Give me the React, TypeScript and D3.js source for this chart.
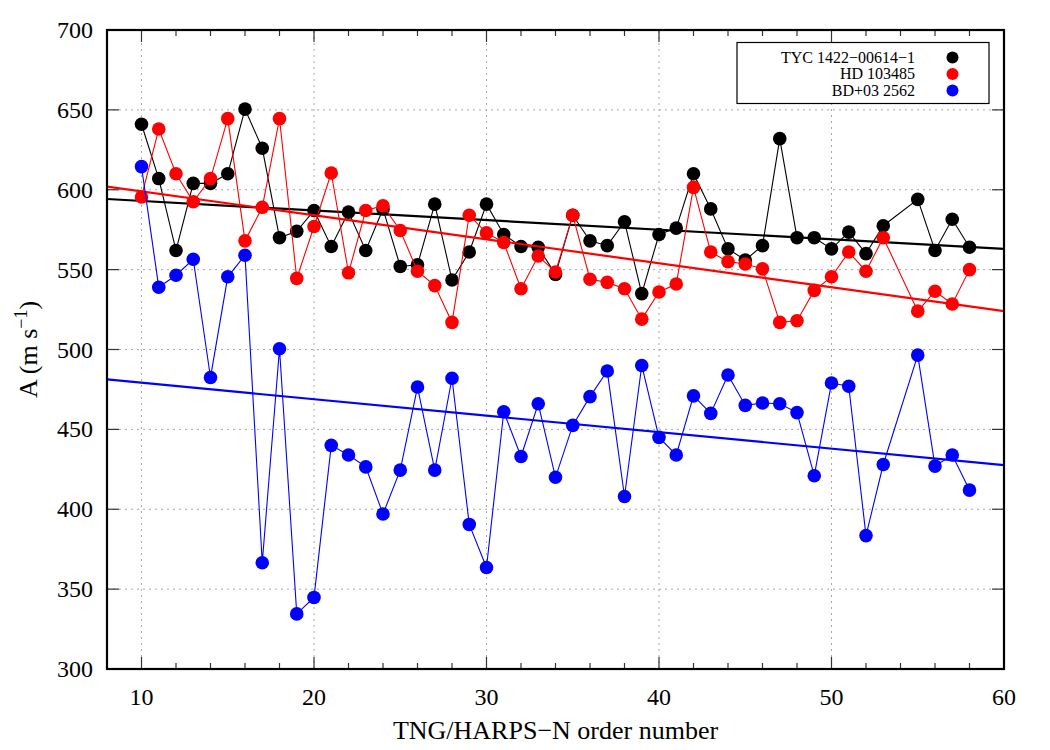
import React, { useEffect } from 'react';
import * as d3 from 'd3';

// order numbers (no 54 in the data)
const orders = [
  10, 11, 12, 13, 14, 15, 16, 17, 18, 19, 20, 21, 22, 23, 24, 25, 26, 27, 28, 29,
  30, 31, 32, 33, 34, 35, 36, 37, 38, 39, 40, 41, 42, 43, 44, 45, 46, 47, 48, 49,
  50, 51, 52, 53, 55, 56, 57, 58,
];

const tycValues = [
  641, 607, 562, 604, 604, 610, 650.5, 626, 570, 574, 587, 564.5, 586, 562, 588, 552, 553, 591, 543.5, 561,
  591, 572, 564.5, 564, 547, 584, 568, 565, 580, 535, 572, 576, 610, 588, 563, 556, 565, 632, 570, 570,
  563, 573.5, 560, 577.5, 594, 562, 581.5, 564,
];

const hdValues = [
  595.5, 638, 610, 592.5, 607, 644.5, 568, 589, 644.5, 544.5, 577, 610.5, 548, 587, 590, 574.5, 549, 540, 517, 584,
  573, 567, 538, 558.5, 548.5, 584, 544, 542, 538, 519, 536, 541, 601.5, 561, 555, 553.5, 550.5, 517, 518, 537,
  545.5, 561, 549, 570, 524, 536.5, 528.5, 550,
];

const bdValues = [
  614.5, 539, 546.5, 556.5, 482.5, 545.5, 559, 366.5, 500.5, 334.5, 344.8, 440, 434, 426.5, 397, 424.5, 476.5, 424.5, 482, 390.5,
  363.5, 461, 433, 466, 420, 452.5, 470.5, 486.5, 408, 490, 445, 434, 471, 460, 484, 465, 466.5, 466, 460.5, 421,
  479, 477, 383.5, 428, 496.5, 427, 434, 412,
];

const seriesNames = ['TYC 1422\u221200614\u22121', 'HD 103485', 'BD+03 2562'];
const seriesColors = ['#000000', '#ff0000', '#0000ff'];
// linear fits: A = intercept + slope * order
const fitIntercepts = [599, 614, 489.5];
const fitSlopes = [-0.6, -1.5, -1.031];

const xTicks = [10, 20, 30, 40, 50, 60];
const yTicks = [300, 350, 400, 450, 500, 550, 600, 650, 700];

const width = 1050;
const height = 750;
const margin = { left: 107, right: 46, top: 30, bottom: 81 };
const font = '"Liberation Serif", "Times New Roman", Times, serif';

export default function App() {
  useEffect(() => {
    document.body.style.margin = '0';
  }, []);

  const x = d3.scaleLinear().domain([8, 60]).range([margin.left, width - margin.right]);
  const y = d3.scaleLinear().domain([300, 700]).range([height - margin.bottom, margin.top]);
  const [x0, x1] = x.range();
  const [y0, y1] = y.range();

  const allValues = [tycValues, hdValues, bdValues];
  const line = d3.line<[number, number]>()
    .x(d => x(d[0]))
    .y(d => y(d[1]));

  const minorX = d3.range(8, 61, 2).filter(v => v % 10 !== 0);

  return (
    <svg width={width} height={height} style={{ display: 'block', background: '#fff', fontFamily: font }}>
      <defs>
        <clipPath id="plot">
          <rect x={x0} y={y1} width={x1 - x0} height={y0 - y1} />
        </clipPath>
      </defs>

      {/* grid */}
      <g stroke="#a8a8a8" strokeWidth={1} strokeDasharray="2,4">
        {xTicks.filter(t => t > 8 && t < 60).map(t => (
          <line key={'gx' + t} x1={x(t)} x2={x(t)} y1={y0} y2={y1} />
        ))}
        {yTicks.filter(t => t > 300 && t < 700).map(t => (
          <line key={'gy' + t} x1={x0} x2={x1} y1={y(t)} y2={y(t)} />
        ))}
      </g>

      {/* ticks */}
      <g stroke="#333" strokeWidth={1.2}>
        {xTicks.map(t => (
          <g key={'tx' + t}>
            <line x1={x(t)} x2={x(t)} y1={y0} y2={y0 - 12} />
            <line x1={x(t)} x2={x(t)} y1={y1} y2={y1 + 12} />
          </g>
        ))}
        {minorX.map(t => (
          <g key={'mx' + t}>
            <line x1={x(t)} x2={x(t)} y1={y0} y2={y0 - 6} />
            <line x1={x(t)} x2={x(t)} y1={y1} y2={y1 + 6} />
          </g>
        ))}
        {yTicks.map(t => (
          <g key={'ty' + t}>
            <line x1={x0} x2={x0 + 12} y1={y(t)} y2={y(t)} />
            <line x1={x1} x2={x1 - 12} y1={y(t)} y2={y(t)} />
          </g>
        ))}
      </g>

      {/* data */}
      <g clipPath="url(#plot)">
        {allValues.map((vals, i) => {
          const pts: [number, number][] = orders.map((o, j) => [o, vals[j]]);
          const fit: [number, number][] = [8, 60].map(o => [o, fitIntercepts[i] + fitSlopes[i] * o]);
          return (
            <g key={'s' + i}>
              <path d={line(pts) || ''} fill="none" stroke={seriesColors[i]} strokeWidth={1.1} />
              {pts.map((p, j) => (
                <circle key={j} cx={x(p[0])} cy={y(p[1])} r={6.8} fill={seriesColors[i]} />
              ))}
              <path d={line(fit) || ''} fill="none" stroke={seriesColors[i]} strokeWidth={2.2} />
            </g>
          );
        })}
      </g>

      {/* frame */}
      <rect x={x0} y={y1} width={x1 - x0} height={y0 - y1} fill="none" stroke="#000" strokeWidth={2.2} />

      {/* tick labels */}
      {xTicks.map(t => (
        <text key={'lx' + t} x={x(t)} y={705} textAnchor="middle" fontSize={24} fontFamily={font} fill="#000">{t}</text>
      ))}
      {yTicks.map(t => (
        <text key={'ly' + t} x={93} y={y(t) + 8} textAnchor="end" fontSize={24} fontFamily={font} fill="#000">{t}</text>
      ))}

      {/* axis titles */}
      <text x={(x0 + x1) / 2} y={739} textAnchor="middle" fontSize={26} fontFamily={font}>TNG/HARPS{'\u2212'}N order number</text>
      <text transform={`translate(37,${(y0 + y1) / 2}) rotate(-90)`} textAnchor="middle" fontSize={26} fontFamily={font}>
        A (m s<tspan dy={-10} fontSize={18}>{'\u2212'}1</tspan><tspan dy={10}>)</tspan>
      </text>

      {/* legend */}
      <g>
        <rect x={737} y={42.5} width={252} height={61} fill="#fff" stroke="#000" strokeWidth={1.2} />
        {seriesNames.map((name, i) => (
          <g key={'lg' + i}>
            <text x={915} y={62.5 + i * 16.5} textAnchor="end" fontSize={16} fontFamily={font}>{name}</text>
            <circle cx={952.5} cy={57.5 + i * 16.5} r={6} fill={seriesColors[i]} />
          </g>
        ))}
      </g>
    </svg>
  );
}
